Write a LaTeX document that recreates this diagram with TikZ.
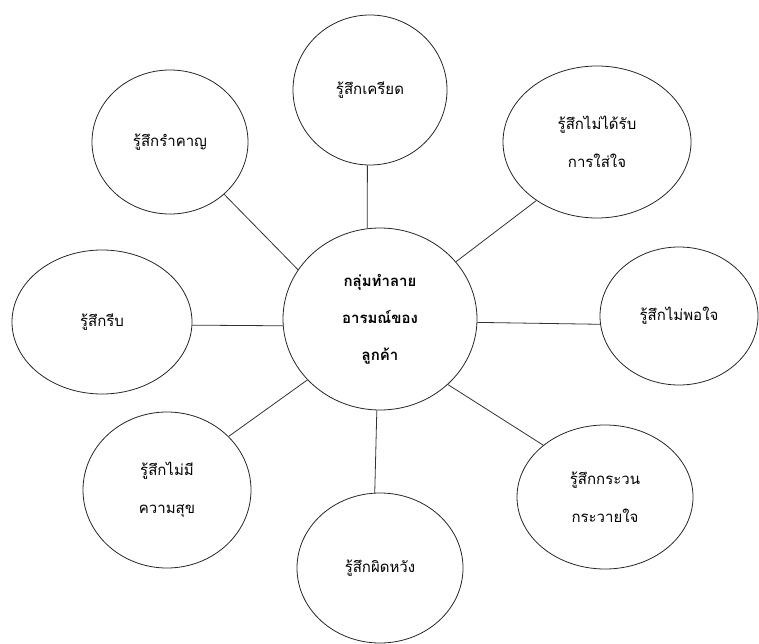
\documentclass[tikz,border=0pt]{standalone}
\usepackage{fontspec}
\newfontfamily\thaifont[Script=Thai]{Loma}
\usetikzlibrary{shapes.geometric}

\begin{document}
\begin{tikzpicture}[x=1pt, y=-1pt,
	every node/.style={font=\thaifont\fontsize{15}{38}\selectfont},
	feel/.style={draw=black!85, ellipse, line width=0.8pt, inner sep=0pt, align=center},
	link/.style={draw=black!80, line width=0.8pt}]
	\useasboundingbox (0,0) rectangle (759,644);
	\node[feel, minimum width=194, minimum height=182, font=\thaifont\bfseries\fontsize{15}{37}\selectfont] (hub) at (380,319) {กลุ่มทำลาย\\อารมณ์ของ\\ลูกค้า};
	\node[feel, minimum width=156, minimum height=144] (annoyed) at (170,142) {รู้สึกรำคาญ};
	\node[feel, minimum width=154, minimum height=150] (stressed) at (370,90) {รู้สึกเครียด};
	\node[feel, minimum width=188, minimum height=152] (ignored) at (597,142) {รู้สึกไม่ได้รับ\\การใส่ใจ};
	\node[feel, minimum width=180, minimum height=144] (rushed) at (102,322) {รู้สึกรีบ};
	\node[feel, minimum width=158, minimum height=138] (unhappy) at (679,316) {รู้สึกไม่พอใจ};
	\node[feel, minimum width=168, minimum height=156] (joyless) at (167,490) {รู้สึกไม่มี\\ความสุข};
	\node[feel, minimum width=176, minimum height=144] (anxious) at (605,497) {รู้สึกกระวน\\กระวายใจ};
	\node[feel, minimum width=166, minimum height=150] (letdown) at (380,568) {รู้สึกผิดหวัง};
	% spokes
	\draw[link] (hub.149) -- (annoyed.316);
	\draw[link] (hub.98) -- (stressed.268);
	\draw[link] (hub.37) -- (ignored.224);
	\draw[link] (hub.184) -- (rushed.358);
	\draw[link] (hub.358) -- (unhappy.186);
	\draw[link] (hub.220) -- (joyless.41);
	\draw[link] (hub.268) -- (letdown.94);
	\draw[link] (hub.316) -- (anxious.140);
\end{tikzpicture}
\end{document}
